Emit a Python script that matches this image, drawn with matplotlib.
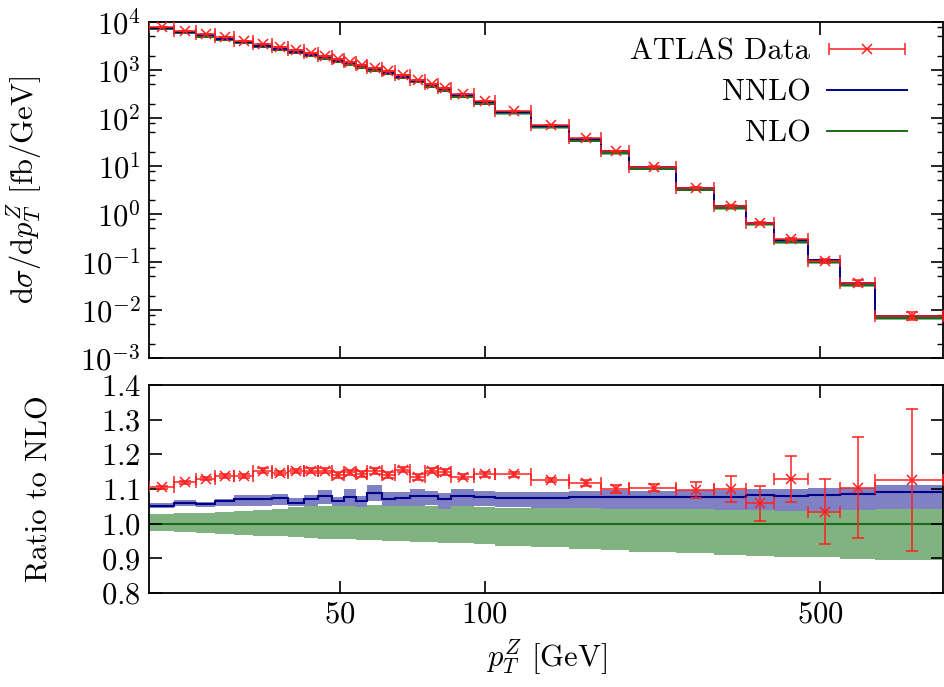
import numpy as np
import matplotlib
matplotlib.use('Agg')
import matplotlib.pyplot as plt
from matplotlib.lines import Line2D
from matplotlib.container import ErrorbarContainer
from matplotlib.legend_handler import HandlerErrorbar
from matplotlib.ticker import FixedLocator, NullLocator, FixedFormatter, NullFormatter

plt.rcParams['font.family'] = 'serif'
plt.rcParams['font.serif'] = ['cmr10', 'DejaVu Serif']
plt.rcParams['mathtext.fontset'] = 'cm'
plt.rcParams['axes.formatter.use_mathtext'] = True
plt.rcParams['axes.unicode_minus'] = False

# pT bin edges [GeV]
edges = [20, 22.5, 25, 27.5, 30, 33, 36, 39, 42, 45, 48, 51, 54, 57, 61, 65, 70,
         75, 80, 85, 95, 105, 125, 150, 175, 200, 250, 300, 350, 400, 470, 550, 650, 900]

# ATLAS data dsigma/dpT [fb/GeV]
data_xs = [7980, 6590, 5620, 4800, 4090, 3480, 2970, 2570, 2220, 1960, 1670, 1470,
           1270, 1100, 938, 774, 628, 518, 422, 311, 226, 142, 71.4, 37.7, 20.5,
           9.69, 3.53, 1.49, 0.649, 0.301, 0.105, 0.0371, 0.00762]

# data / NLO and its error
data_ratio = [1.105, 1.119, 1.130, 1.137, 1.137, 1.153, 1.146, 1.152, 1.153, 1.153,
              1.140, 1.148, 1.144, 1.152, 1.141, 1.156, 1.134, 1.153, 1.148, 1.135,
              1.143, 1.142, 1.126, 1.117, 1.100, 1.104, 1.098, 1.100, 1.059, 1.129,
              1.035, 1.104, 1.125]
ratio_err = [0.005, 0.005, 0.005, 0.006, 0.006, 0.007, 0.007, 0.007, 0.007, 0.008,
             0.008, 0.008, 0.008, 0.008, 0.008, 0.008, 0.008, 0.008, 0.009, 0.007,
             0.007, 0.006, 0.006, 0.008, 0.012, 0.011, 0.023, 0.037, 0.051, 0.066,
             0.093, 0.145, 0.205]

# NNLO / NLO central and scale band
nnlo_ratio = [1.052, 1.060, 1.058, 1.064, 1.070, 1.070, 1.073, 1.060, 1.070, 1.080,
              1.066, 1.078, 1.065, 1.089, 1.071, 1.074, 1.081, 1.079, 1.070, 1.081,
              1.077, 1.075, 1.075, 1.077, 1.078, 1.076, 1.077, 1.078, 1.082, 1.080,
              1.082, 1.086, 1.090]
nnlo_hi = [1.059, 1.068, 1.063, 1.070, 1.083, 1.083, 1.086, 1.073, 1.082, 1.097,
           1.078, 1.100, 1.080, 1.111, 1.090, 1.092, 1.100, 1.095, 1.088, 1.100,
           1.095, 1.092, 1.090, 1.094, 1.097, 1.095, 1.097, 1.098, 1.100, 1.100,
           1.103, 1.104, 1.111]
nnlo_lo = [1.045, 1.051, 1.049, 1.052, 1.052, 1.052, 1.054, 1.052, 1.050, 1.057,
           1.052, 1.050, 1.048, 1.064, 1.050, 1.050, 1.052, 1.054, 1.043, 1.051,
           1.050, 1.047, 1.045, 1.045, 1.043, 1.042, 1.042, 1.040, 1.040, 1.037,
           1.037, 1.040, 1.043]

# NLO scale band relative to NLO central
nlo_hi = [1.027, 1.030, 1.032, 1.034, 1.037, 1.040, 1.043, 1.047, 1.050, 1.050,
          1.050, 1.052, 1.052, 1.055, 1.050, 1.051, 1.054, 1.052, 1.050, 1.051,
          1.047, 1.045, 1.047, 1.045, 1.045, 1.043, 1.043, 1.041, 1.041, 1.040,
          1.040, 1.040, 1.042]
nlo_lo = [0.978, 0.976, 0.973, 0.970, 0.968, 0.965, 0.964, 0.962, 0.959, 0.957,
          0.956, 0.955, 0.954, 0.952, 0.951, 0.950, 0.948, 0.947, 0.945, 0.943,
          0.940, 0.935, 0.934, 0.927, 0.924, 0.918, 0.915, 0.911, 0.907, 0.904,
          0.904, 0.898, 0.895]

# axis ticks
x_ticks = [50, 100, 500]
x_tick_labels = ['$50$', '$100$', '$500$']
y_exps = [-3, -2, -1, 0, 1, 2, 3, 4]
ratio_ticks = [0.8, 0.9, 1.0, 1.1, 1.2, 1.3, 1.4]

edges_a = np.array(edges, dtype=float)
centers = 0.5 * (edges_a[:-1] + edges_a[1:])
xlo = centers - edges_a[:-1]
xhi = edges_a[1:] - centers
data_a = np.array(data_xs)
rat = np.array(data_ratio)
rerr = np.array(ratio_err)
nlo = data_a / rat
nnlo = nlo * np.array(nnlo_ratio)
data_err = data_a * rerr / rat

RED = '#ff2020'
BLUE = '#00008b'
GREEN = '#1a6b1a'
BLUE_BAND = '#8080c4'
GREEN_BAND = '#80b380'
FS = 22
eb = dict(fmt='x', color=RED, ms=7.5, mew=1.1, lw=1.1, capsize=4, capthick=1.1)

fig = plt.figure(figsize=(9.45, 6.87), dpi=100)
ax1 = fig.add_axes([0.1577, 0.4789, 0.8402, 0.4891])
ax2 = fig.add_axes([0.1577, 0.1368, 0.8402, 0.3028])

# --- upper panel ---
ax1.stairs(nlo * np.array(nlo_hi), edges_a, baseline=nlo * np.array(nlo_lo),
           fill=True, color=GREEN_BAND, lw=0)
ax1.stairs(nlo * np.array(nnlo_hi), edges_a, baseline=nlo * np.array(nnlo_lo),
           fill=True, color=BLUE_BAND, lw=0)
ax1.stairs(nlo, edges_a, baseline=None, color=GREEN, lw=1.4)
ax1.stairs(nnlo, edges_a, baseline=None, color=BLUE, lw=1.4)
ax1.errorbar(centers, data_a, xerr=[xlo, xhi], yerr=data_err, zorder=5, **eb)

ax1.set_xscale('log')
ax1.set_yscale('log')
ax1.set_xlim(20, 900)
ax1.set_ylim(1e-3, 1e4)
ax1.yaxis.set_major_locator(FixedLocator([10.0 ** e for e in y_exps]))
ax1.yaxis.set_major_formatter(FixedFormatter(['$10^{%d}$' % e for e in y_exps]))
minors = [m * 10.0 ** e for e in y_exps[:-1] for m in (2, 5, 8)]
ax1.yaxis.set_minor_locator(FixedLocator(minors))
ax1.yaxis.set_minor_formatter(NullFormatter())
ax1.set_ylabel(r'$\mathrm{d}\sigma/\mathrm{d}p_T^Z$ [fb/GeV]', fontsize=FS)

# legend
h_data = ax1.errorbar([np.nan], [np.nan], xerr=[1], **eb)
h_nnlo = Line2D([], [], color=BLUE, lw=1.4)
h_nlo = Line2D([], [], color=GREEN, lw=1.4)
ax1.legend([h_data, h_nnlo, h_nlo], ['ATLAS Data', 'NNLO', 'NLO'], loc='upper right',
           frameon=False, markerfirst=False, fontsize=FS, handlelength=2.6,
           handletextpad=0.55, labelspacing=0.45, borderaxespad=0.0, borderpad=0.2,
           bbox_to_anchor=(0.962, 0.97),
           handler_map={ErrorbarContainer: HandlerErrorbar(xerr_size=1.25)})

# --- ratio panel ---
ax2.stairs(nlo_hi, edges_a, baseline=nlo_lo, fill=True, color=GREEN_BAND, lw=0)
ax2.stairs(nnlo_hi, edges_a, baseline=nnlo_lo, fill=True, color=BLUE_BAND, lw=0)
ax2.stairs(np.ones(len(centers)), edges_a, baseline=None, color=GREEN, lw=1.5)
ax2.stairs(nnlo_ratio, edges_a, baseline=None, color=BLUE, lw=1.5)
ax2.errorbar(centers, rat, xerr=[xlo, xhi], yerr=rerr, zorder=5, **eb)

ax2.set_xscale('log')
ax2.set_xlim(20, 900)
ax2.set_ylim(0.8, 1.4)
ax2.yaxis.set_major_locator(FixedLocator(ratio_ticks))
ax2.yaxis.set_major_formatter(FixedFormatter(['$%.1f$' % t for t in ratio_ticks]))
ax2.yaxis.set_minor_locator(NullLocator())
ax2.set_ylabel('Ratio to NLO', fontsize=FS)
ax2.set_xlabel(r'$p_T^Z$ [GeV]', fontsize=FS, labelpad=6)

for ax in (ax1, ax2):
    ax.xaxis.set_major_locator(FixedLocator(x_ticks))
    ax.xaxis.set_major_formatter(FixedFormatter(x_tick_labels))
    ax.xaxis.set_minor_locator(NullLocator())
    ax.tick_params(which='both', direction='in', top=True, right=True, labelsize=FS)
    ax.tick_params(which='major', length=9, width=1.2, pad=6)
    ax.tick_params(which='minor', length=4.5, width=1.0)
    for s in ax.spines.values():
        s.set_linewidth(1.3)
ax1.tick_params(axis='x', labelbottom=False)
ax1.yaxis.set_label_coords(-0.132, 0.5)
ax2.yaxis.set_label_coords(-0.12, 0.5)

fig.savefig('out.png', dpi=100)
